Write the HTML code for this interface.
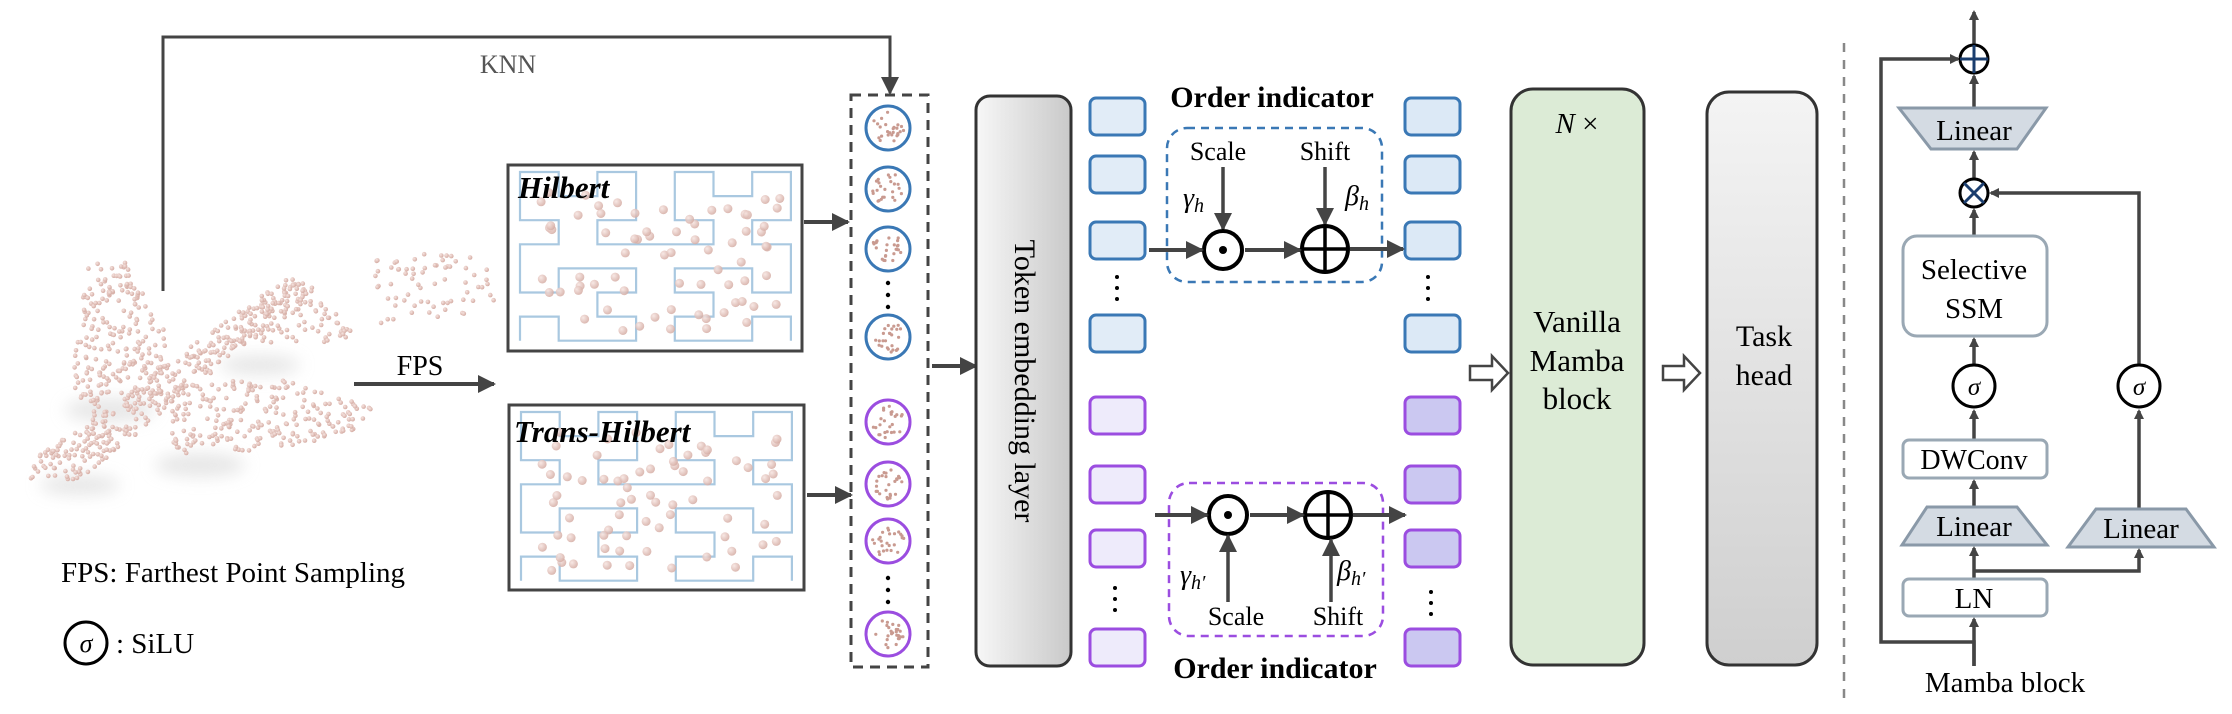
<!DOCTYPE html>
<html><head><meta charset="utf-8"><style>
html,body{margin:0;padding:0;background:#fff;}
svg{display:block;}
text{font-family:"Liberation Serif",serif;}
</style></head><body>
<svg id="s" width="2232" height="714" viewBox="0 0 2232 714" xmlns="http://www.w3.org/2000/svg" font-family="Liberation Serif, serif">
<defs>
<marker id="ah" markerWidth="10" markerHeight="10" refX="8" refY="5" orient="auto" markerUnits="userSpaceOnUse" viewBox="0 0 10 10"><path d="M0,0 L10,5 L0,10 z" fill="#444"/></marker>
<marker id="ahb" markerWidth="18" markerHeight="18" refX="16" refY="9" orient="auto" markerUnits="userSpaceOnUse" viewBox="0 0 18 18"><path d="M0,0 L18,9 L0,18 z" fill="#444"/></marker>
<linearGradient id="gtok" x1="0" y1="0" x2="1" y2="0"><stop offset="0" stop-color="#f7f7f7"/><stop offset="1" stop-color="#c9c9c9"/></linearGradient>
<linearGradient id="gtask" x1="0" y1="0" x2="0" y2="1"><stop offset="0" stop-color="#f4f4f4"/><stop offset="1" stop-color="#cfcfcf"/></linearGradient>
<radialGradient id="gd" cx="0.35" cy="0.35" r="0.7"><stop offset="0" stop-color="#f6e4e0"/><stop offset="1" stop-color="#d3a9a0"/></radialGradient>
<filter id="blur"><feGaussianBlur stdDeviation="8"/></filter>
</defs>

<g filter="url(#blur)" fill="#ddd" opacity="0.7">
<ellipse cx="110" cy="410" rx="45" ry="12"/>
<ellipse cx="200" cy="465" rx="45" ry="12"/>
<ellipse cx="80" cy="485" rx="40" ry="10"/>
<ellipse cx="260" cy="365" rx="40" ry="10"/>
</g>
<g id="plane"></g>

<polyline points="163,291 163,37 890,37 890,93" fill="none" stroke="#444" stroke-width="3" marker-end="url(#ahb)"/>
<text x="508" y="73" font-size="26" fill="#555" text-anchor="middle">KNN</text>

<line x1="354" y1="384" x2="494" y2="384" stroke="#444" stroke-width="4" marker-end="url(#ahb)"/>
<text x="420" y="375" font-size="28" text-anchor="middle">FPS</text>

<text x="61" y="582" font-size="29">FPS: Farthest Point Sampling</text>
<circle cx="86" cy="643" r="21" fill="none" stroke="#000" stroke-width="3"/>
<text x="86" y="652" font-size="26" font-style="italic" text-anchor="middle">σ</text>
<text x="116" y="653" font-size="29">: SiLU</text>

<rect x="508" y="165" width="294" height="186" fill="#fff" stroke="#444" stroke-width="3"/>
<g id="h1"></g>
<text x="518" y="198" font-size="31" font-weight="bold" font-style="italic">Hilbert</text>
<rect x="509" y="405" width="295" height="185" fill="#fff" stroke="#444" stroke-width="3"/>
<g id="h2"></g>
<text x="514" y="442" font-size="31" font-weight="bold" font-style="italic">Trans-Hilbert</text>
<line x1="804" y1="222" x2="848" y2="222" stroke="#444" stroke-width="4" marker-end="url(#ahb)"/>
<line x1="807" y1="495" x2="851" y2="495" stroke="#444" stroke-width="4" marker-end="url(#ahb)"/>

<rect x="851" y="95" width="77" height="572" fill="none" stroke="#444" stroke-width="3" stroke-dasharray="10,7"/>
<g id="patches"></g>
<g fill="#000">
<circle cx="888" cy="283" r="2.2"/><circle cx="888" cy="295" r="2.2"/><circle cx="888" cy="307" r="2.2"/>
<circle cx="888" cy="578" r="2.2"/><circle cx="888" cy="590" r="2.2"/><circle cx="888" cy="602" r="2.2"/>
</g>
<line x1="932" y1="366" x2="976" y2="366" stroke="#444" stroke-width="4" marker-end="url(#ahb)"/>

<rect x="976" y="96" width="95" height="570" rx="14" fill="url(#gtok)" stroke="#333" stroke-width="3"/>
<text transform="translate(1015,381) rotate(90)" font-size="30" text-anchor="middle">Token embedding layer</text>

<g id="sq"></g>
<g fill="#000">
<circle cx="1117" cy="277" r="2"/><circle cx="1117" cy="288" r="2"/><circle cx="1117" cy="299" r="2"/>
<circle cx="1428" cy="277" r="2"/><circle cx="1428" cy="288" r="2"/><circle cx="1428" cy="299" r="2"/>
<circle cx="1115" cy="588" r="2"/><circle cx="1115" cy="599" r="2"/><circle cx="1115" cy="610" r="2"/>
<circle cx="1431" cy="592" r="2"/><circle cx="1431" cy="603" r="2"/><circle cx="1431" cy="614" r="2"/>
</g>

<text x="1272" y="107" font-size="30" font-weight="bold" text-anchor="middle">Order indicator</text>
<rect x="1167" y="128" width="215" height="154" rx="20" fill="none" stroke="#3a78b5" stroke-width="2.5" stroke-dasharray="8,6"/>
<text x="1218" y="160" font-size="26" text-anchor="middle">Scale</text>
<text x="1325" y="160" font-size="26" text-anchor="middle">Shift</text>
<line x1="1223" y1="167" x2="1223" y2="229" stroke="#444" stroke-width="3.5" marker-end="url(#ahb)"/>
<line x1="1325" y1="167" x2="1325" y2="224" stroke="#444" stroke-width="3.5" marker-end="url(#ahb)"/>
<text x="1183" y="207" font-size="28" font-style="italic">γ<tspan font-size="20" dy="5">h</tspan></text>
<text x="1345" y="205" font-size="28" font-style="italic">β<tspan font-size="20" dy="5">h</tspan></text>
<circle cx="1223" cy="250" r="19" fill="#fff" stroke="#000" stroke-width="4"/>
<circle cx="1223" cy="250" r="4" fill="#000"/>
<circle cx="1325" cy="249" r="23" fill="#fff" stroke="#000" stroke-width="4"/>
<line x1="1302" y1="249" x2="1348" y2="249" stroke="#000" stroke-width="3.5"/>
<line x1="1325" y1="226" x2="1325" y2="272" stroke="#000" stroke-width="3.5"/>
<line x1="1149" y1="250" x2="1202" y2="250" stroke="#444" stroke-width="4" marker-end="url(#ahb)"/>
<line x1="1245" y1="250" x2="1300" y2="250" stroke="#444" stroke-width="4" marker-end="url(#ahb)"/>
<line x1="1350" y1="249" x2="1403" y2="249" stroke="#444" stroke-width="4" marker-end="url(#ahb)"/>

<rect x="1169" y="483" width="214" height="153" rx="20" fill="none" stroke="#9b4de0" stroke-width="2.5" stroke-dasharray="8,6"/>
<circle cx="1228" cy="515" r="19" fill="#fff" stroke="#000" stroke-width="4"/>
<circle cx="1228" cy="515" r="4" fill="#000"/>
<circle cx="1328" cy="515" r="23" fill="#fff" stroke="#000" stroke-width="4"/>
<line x1="1305" y1="515" x2="1351" y2="515" stroke="#000" stroke-width="3.5"/>
<line x1="1328" y1="492" x2="1328" y2="538" stroke="#000" stroke-width="3.5"/>
<line x1="1155" y1="515" x2="1207" y2="515" stroke="#444" stroke-width="4" marker-end="url(#ahb)"/>
<line x1="1250" y1="515" x2="1303" y2="515" stroke="#444" stroke-width="4" marker-end="url(#ahb)"/>
<line x1="1353" y1="515" x2="1405" y2="515" stroke="#444" stroke-width="4" marker-end="url(#ahb)"/>
<line x1="1228" y1="602" x2="1228" y2="536" stroke="#444" stroke-width="3.5" marker-end="url(#ahb)"/>
<line x1="1331" y1="602" x2="1331" y2="540" stroke="#444" stroke-width="3.5" marker-end="url(#ahb)"/>
<text x="1180" y="584" font-size="28" font-style="italic">γ<tspan font-size="20" dy="5">h′</tspan></text>
<text x="1337" y="580" font-size="28" font-style="italic">β<tspan font-size="20" dy="5">h′</tspan></text>
<text x="1236" y="625" font-size="26" text-anchor="middle">Scale</text>
<text x="1338" y="625" font-size="26" text-anchor="middle">Shift</text>
<text x="1275" y="678" font-size="30" font-weight="bold" text-anchor="middle">Order indicator</text>

<path d="M1470,366 L1492,366 L1492,356 L1508,373 L1492,390 L1492,380 L1470,380 Z" fill="#fff" stroke="#444" stroke-width="2.5"/>
<path d="M1663,366 L1684,366 L1684,356 L1700,373 L1684,390 L1684,380 L1663,380 Z" fill="#fff" stroke="#444" stroke-width="2.5"/>

<rect x="1511" y="89" width="133" height="576" rx="22" fill="#dcebd6" stroke="#333" stroke-width="3"/>
<text x="1577" y="133" font-size="29" text-anchor="middle"><tspan font-style="italic">N</tspan> ×</text>
<text x="1577" y="332" font-size="31" text-anchor="middle">Vanilla</text>
<text x="1577" y="371" font-size="31" text-anchor="middle">Mamba</text>
<text x="1577" y="409" font-size="31" text-anchor="middle">block</text>

<rect x="1707" y="92" width="110" height="573" rx="22" fill="url(#gtask)" stroke="#333" stroke-width="3"/>
<text x="1764" y="346" font-size="30" text-anchor="middle">Task</text>
<text x="1764" y="385" font-size="30" text-anchor="middle">head</text>

<line x1="1844" y1="43" x2="1844" y2="700" stroke="#888" stroke-width="2.5" stroke-dasharray="9,8"/>

<g stroke="#444" stroke-width="3.5" fill="none">
<line x1="1974" y1="45" x2="1974" y2="12" marker-end="url(#ah)"/>
<polyline points="1974,666 1974,642 1881,642 1881,59 1958,59" marker-end="url(#ah)"/>
<line x1="1974" y1="108" x2="1974" y2="76" marker-end="url(#ah)"/>
<line x1="1974" y1="179" x2="1974" y2="152" marker-end="url(#ah)"/>
<line x1="1974" y1="236" x2="1974" y2="210" marker-end="url(#ah)"/>
<polyline points="2139,364 2139,193 1991,193" marker-end="url(#ah)"/>
<line x1="1974" y1="364" x2="1974" y2="339" marker-end="url(#ah)"/>
<line x1="1974" y1="440" x2="1974" y2="411" marker-end="url(#ah)"/>
<line x1="1974" y1="507" x2="1974" y2="481" marker-end="url(#ah)"/>
<line x1="2139" y1="509" x2="2139" y2="411" marker-end="url(#ah)"/>
<line x1="1974" y1="579" x2="1974" y2="548" marker-end="url(#ah)"/>
<polyline points="1974,571 2139,571 2139,550" marker-end="url(#ah)"/>
<line x1="1974" y1="666" x2="1974" y2="619" marker-end="url(#ah)"/>
</g>
<circle cx="1974" cy="59" r="14" fill="#fff" stroke="#000" stroke-width="3"/>
<line x1="1960" y1="59" x2="1988" y2="59" stroke="#1a3d6e" stroke-width="3"/>
<line x1="1974" y1="45" x2="1974" y2="73" stroke="#1a3d6e" stroke-width="3"/>
<polygon points="1899,108 2046,108 2017,149 1931,149" fill="#d4dbe3" stroke="#8a99a8" stroke-width="3"/>
<text x="1974" y="140" font-size="29" text-anchor="middle">Linear</text>
<circle cx="1974" cy="193" r="14" fill="#fff" stroke="#000" stroke-width="3"/>
<line x1="1964" y1="183" x2="1984" y2="203" stroke="#1a3d6e" stroke-width="3"/>
<line x1="1984" y1="183" x2="1964" y2="203" stroke="#1a3d6e" stroke-width="3"/>
<rect x="1903" y="236" width="144" height="100" rx="14" fill="#fff" stroke="#9aa8b4" stroke-width="3"/>
<text x="1974" y="279" font-size="29" text-anchor="middle">Selective</text>
<text x="1974" y="318" font-size="29" text-anchor="middle">SSM</text>
<circle cx="1974" cy="386" r="21" fill="#fff" stroke="#000" stroke-width="3"/>
<text x="1974" y="395" font-size="25" font-style="italic" text-anchor="middle">σ</text>
<circle cx="2139" cy="386" r="21" fill="#fff" stroke="#000" stroke-width="3"/>
<text x="2139" y="395" font-size="25" font-style="italic" text-anchor="middle">σ</text>
<rect x="1903" y="440" width="144" height="38" rx="6" fill="#fff" stroke="#9aa8b4" stroke-width="3"/>
<text x="1974" y="469" font-size="28" text-anchor="middle">DWConv</text>
<polygon points="1927,507 2017,507 2047,545 1902,545" fill="#d4dbe3" stroke="#8a99a8" stroke-width="3"/>
<text x="1974" y="536" font-size="29" text-anchor="middle">Linear</text>
<polygon points="2096,509 2186,509 2214,547 2068,547" fill="#d4dbe3" stroke="#8a99a8" stroke-width="3"/>
<text x="2141" y="538" font-size="29" text-anchor="middle">Linear</text>
<rect x="1903" y="579" width="144" height="37" rx="6" fill="#fff" stroke="#9aa8b4" stroke-width="3"/>
<text x="1974" y="608" font-size="29" text-anchor="middle">LN</text>
<text x="2005" y="692" font-size="29" text-anchor="middle">Mamba block</text>
</svg>
<script>
(function(){
var NS="http://www.w3.org/2000/svg";
var seed=12345;function R(){seed=(seed*1103515245+12345)%2147483648;return seed/2147483648;}
function el(p,t,a){var e=document.createElementNS(NS,t);for(var k in a)e.setAttribute(k,a[k]);p.appendChild(e);return e;}
function inPoly(x,y,P){var c=false;for(var i=0,j=P.length-1;i<P.length;j=i++){var xi=P[i][0],yi=P[i][1],xj=P[j][0],yj=P[j][1];if(((yi>y)!=(yj>y))&&(x<(xj-xi)*(y-yi)/(yj-yi)+xi))c=!c;}return c;}
var plane=document.getElementById('plane');
var polys=[
 [[[18,480],[40,455],[300,268],[315,290],[80,480]],330],
 [[[88,262],[125,258],[165,330],[168,395],[100,425],[70,385]],240],
 [[[240,305],[300,280],[360,335],[330,350],[250,340]],90],
 [[[165,385],[280,378],[378,410],[340,440],[200,458],[170,450]],230],
 [[[373,250],[490,255],[495,310],[380,325]],70]];
polys.forEach(function(pp){var P=pp[0],n=pp[1],xs=P.map(function(p){return p[0]}),ys=P.map(function(p){return p[1]});
 var x0=Math.min.apply(0,xs),x1=Math.max.apply(0,xs),y0=Math.min.apply(0,ys),y1=Math.max.apply(0,ys),c=0,g=0;
 while(c<n&&g<20000){g++;var x=x0+R()*(x1-x0),y=y0+R()*(y1-y0);if(inPoly(x,y,P)){el(plane,'circle',{cx:x.toFixed(1),cy:y.toFixed(1),r:2.3,fill:'url(#gd)'});c++;}}});
function d2xy(n,d){var rx,ry,s,t=d,x=0,y=0;for(s=1;s<n;s*=2){rx=1&(t/2);ry=1&(t^rx);if(ry==0){if(rx==1){x=s-1-x;y=s-1-y;}var tmp=x;x=y;y=tmp;}x+=s*rx;y+=s*ry;t=Math.floor(t/4);}return [x,y];}
function hil(id,X0,Y0,dx,dy){var g=document.getElementById(id),pts=[];for(var d=0;d<64;d++){var p=d2xy(8,d);pts.push((X0+p[0]*dx)+','+(Y0+(7-p[1])*dy));}
 el(g,'polyline',{points:pts.join(' '),fill:'none',stroke:'#a9c8e0','stroke-width':2.2});
 for(var i=0;i<70;i++){var x=X0+20+R()*(7*dx-30),y=Y0+20+R()*(7*dy-30);el(g,'circle',{cx:x.toFixed(1),cy:y.toFixed(1),r:4.5,fill:'url(#gd)',opacity:0.85});}}
hil('h1',520,172,38.7,24.1);
hil('h2',521,412,38.7,24.1);
var pg=document.getElementById('patches');
[[128,'#3a78b5'],[189,'#3a78b5'],[249,'#3a78b5'],[337,'#3a78b5'],[422,'#9b4de0'],[484,'#9b4de0'],[541,'#9b4de0'],[634,'#9b4de0']].forEach(function(a){
 el(pg,'circle',{cx:888,cy:a[0],r:22,fill:'#fff',stroke:a[1],'stroke-width':3});
 for(var i=0;i<25;i++){var ang=R()*6.28,rr=Math.sqrt(R())*16;el(pg,'circle',{cx:(888+rr*Math.cos(ang)).toFixed(1),cy:(a[0]+rr*Math.sin(ang)).toFixed(1),r:1.6,fill:'#c99a90'});}});
var sg=document.getElementById('sq');
var blue=[98,156,222,315],pur=[397,466,530,629];
blue.forEach(function(y){el(sg,'rect',{x:1090,y:y,width:55,height:37,rx:6,fill:'#e1ecf7',stroke:'#3a78b5','stroke-width':3});el(sg,'rect',{x:1405,y:y,width:55,height:37,rx:6,fill:'#dce9f6',stroke:'#3a78b5','stroke-width':3});});
pur.forEach(function(y){el(sg,'rect',{x:1090,y:y,width:55,height:37,rx:6,fill:'#eeebfb',stroke:'#9b4de0','stroke-width':3});el(sg,'rect',{x:1405,y:y,width:55,height:37,rx:6,fill:'#cbc8f1',stroke:'#9b4de0','stroke-width':3});});
})();
</script>
</body></html>
